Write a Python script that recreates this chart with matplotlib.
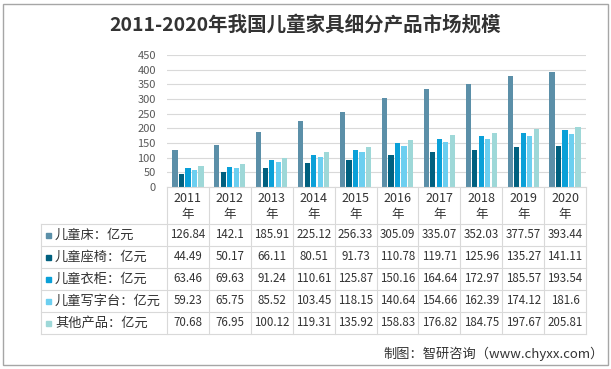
import numpy as np
import matplotlib
matplotlib.use("Agg")
import matplotlib.pyplot as plt
from matplotlib.lines import Line2D
from matplotlib.patches import Rectangle

plt.rcParams['font.family'] = ['Noto Sans CJK SC', 'DejaVu Sans']

years = ['2011', '2012', '2013', '2014', '2015', '2016', '2017', '2018', '2019', '2020']
series_names = ['儿童床：亿元', '儿童座椅：亿元', '儿童衣柜：亿元', '儿童写字台：亿元', '其他产品：亿元']
bed = [126.84, 142.1, 185.91, 225.12, 256.33, 305.09, 335.07, 352.03, 377.57, 393.44]
seat = [44.49, 50.17, 66.11, 80.51, 91.73, 110.78, 119.71, 125.96, 135.27, 141.11]
wardrobe = [63.46, 69.63, 91.24, 110.61, 125.87, 150.16, 164.64, 172.97, 185.57, 193.54]
desk = [59.23, 65.75, 85.52, 103.45, 118.15, 140.64, 154.66, 162.39, 174.12, 181.6]
other = [70.68, 76.95, 100.12, 119.31, 135.92, 158.83, 176.82, 184.75, 197.67, 205.81]
series = [bed, seat, wardrobe, desk, other]
colors = ['#5B8FA8', '#00607F', '#0AA0D8', '#6CCFF0', '#9ED8D8']

W, H = 611, 369
fig = plt.figure(figsize=(W / 100, H / 100), dpi=100)

def fx(px):
    return px / W

def fy(py):
    return 1 - py / H

grid_c = '#D9D9D9'

# plot area
left, right, top, bottom = 167, 586, 55, 187
ax = fig.add_axes([fx(left), fy(bottom), fx(right - left), (bottom - top) / H])
x = np.arange(len(years))
bw = 0.125
step = 0.155
for i, vals in enumerate(series):
    ax.bar(x + (i - 2) * step, vals, width=bw, color=colors[i], zorder=3)
ax.set_xlim(-0.5, 9.5)
ax.set_ylim(0, 450)
ax.set_yticks(range(0, 451, 50))
ax.yaxis.grid(True, color=grid_c, lw=0.8, zorder=0)
ax.set_xticks([])
for s in ax.spines.values():
    s.set_visible(False)
ax.tick_params(axis='y', length=0, labelsize=8, labelcolor='#595959', pad=8)

# title
fig.text(0.5, fy(25), '2011-2020年我国儿童家具细分产品市场规模', ha='center', va='center',
         fontsize=14, fontweight='bold', color='#333333')

# table
col_w = (right - left) / len(years)
tab_left = 41
row_top = 224
row_h = 22
n_rows = len(series)
tab_bottom = row_top + row_h * n_rows

def line(x0, y0, x1, y1):
    fig.add_artist(Line2D([fx(x0), fx(x1)], [fy(y0), fy(y1)], color=grid_c, lw=0.8))

# header row
line(left, bottom, right, bottom)
for j in range(len(years) + 1):
    cx = left + j * col_w
    line(cx, bottom, cx, tab_bottom)
for j, yr in enumerate(years):
    cx = left + (j + 0.5) * col_w
    fig.text(fx(cx), fy(198), yr, ha='center', va='center', fontsize=9, color='#333333')
    fig.text(fx(cx), fy(214), '年', ha='center', va='center', fontsize=9, color='#333333')

# body rows
for r in range(n_rows + 1):
    line(tab_left, row_top + r * row_h, right, row_top + r * row_h)
line(tab_left, row_top, tab_left, tab_bottom)
for r, name in enumerate(series_names):
    cy = row_top + (r + 0.5) * row_h
    fig.add_artist(Rectangle((fx(46), fy(cy + 2.5)), fx(5), 5 / H, color=colors[r]))
    fig.text(fx(55), fy(cy), name, ha='left', va='center', fontsize=9.5, color='#333333')
    for j, v in enumerate(series[r]):
        cx = left + (j + 0.5) * col_w
        fig.text(fx(cx), fy(cy), f'{v:g}', ha='center', va='center', fontsize=8.3, color='#333333')

# source
fig.text(fx(604), fy(354), '制图：智研咨询（www.chyxx.com）', ha='right', va='center',
         fontsize=9.5, color='#333333')

# outer border
fig.add_artist(Rectangle((fx(3), fy(365)), fx(605), 361 / H, fill=False, ec='#A6A6A6', lw=1))

fig.savefig('out.png', dpi=100)
